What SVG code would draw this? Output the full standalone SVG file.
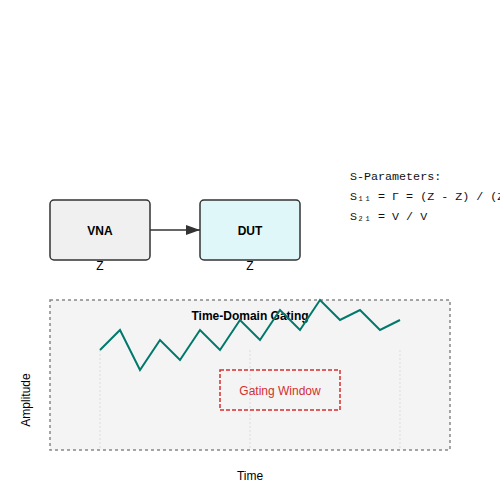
<svg xmlns="http://www.w3.org/2000/svg" width="500" height="500" viewBox="0 0 500 500">
<style>
text{font-family:"Liberation Sans",Arial,sans-serif;font-size:12px;fill:#000}
.box{stroke:#333;stroke-width:1.5}
.bold{font-weight:bold}
.mono{font-family:"Liberation Mono","Courier New",monospace;font-size:11.7px;fill:#111}
.grid{stroke:#ddd;stroke-width:1;stroke-dasharray:2,2}
</style>
<defs>
<marker id="arr" markerWidth="14" markerHeight="10" refX="14" refY="5" orient="auto" markerUnits="userSpaceOnUse">
<path d="M0,0 L14,5 L0,10 Z" fill="#333"/>
</marker>
</defs>
<rect width="500" height="500" fill="#fff"/>
<g id="vna">
<rect class="box" x="50" y="200" width="100" height="60" rx="4" fill="#f0f0f0"/>
<text class="bold" x="100" y="235" text-anchor="middle">VNA</text>
<text x="100" y="270" text-anchor="middle">Z</text>
</g>
<g id="dut">
<rect class="box" x="200" y="200" width="100" height="60" rx="4" fill="#e0f7fa"/>
<text class="bold" x="250" y="235" text-anchor="middle">DUT</text>
<text x="250" y="270" text-anchor="middle">Z</text>
</g>
<g id="connectors">
<line x1="150" y1="230" x2="200" y2="230" stroke="#333" stroke-width="1.5" marker-end="url(#arr)"/>
</g>
<g id="sparams">
<text class="mono" x="350" y="180">S-Parameters:</text>
<text class="mono" x="350" y="200">S₁₁ = Γ = (Z - Z) / (Z + Z)</text>
<text class="mono" x="350" y="220">S₂₁ = V / V</text>
</g>
<g id="plot">
<rect x="50" y="300" width="400" height="150" fill="#f4f4f4" stroke="#888" stroke-width="1.5" stroke-dasharray="3,3"/>
<line class="grid" x1="100" y1="350" x2="100" y2="450"/>
<line class="grid" x1="250" y1="350" x2="250" y2="450"/>
<line class="grid" x1="400" y1="350" x2="400" y2="450"/>
<text class="bold" x="250" y="320" text-anchor="middle">Time-Domain Gating</text>
<polyline points="100,350 120,330 140,370 160,340 180,360 200,330 220,350 240,320 260,340 280,310 300,330 320,300 340,320 360,310 380,330 400,320" fill="none" stroke="#00796b" stroke-width="2"/>
<rect x="220" y="370" width="120" height="40" fill="none" stroke="#d32f2f" stroke-width="1.5" stroke-dasharray="4,2"/>
<text x="280" y="395" text-anchor="middle" style="fill:#d32f2f">Gating Window</text>
<text x="250" y="480" text-anchor="middle">Time</text>
<text x="30" y="400" text-anchor="middle" transform="rotate(-90 30 400)">Amplitude</text>
</g>
</svg>
